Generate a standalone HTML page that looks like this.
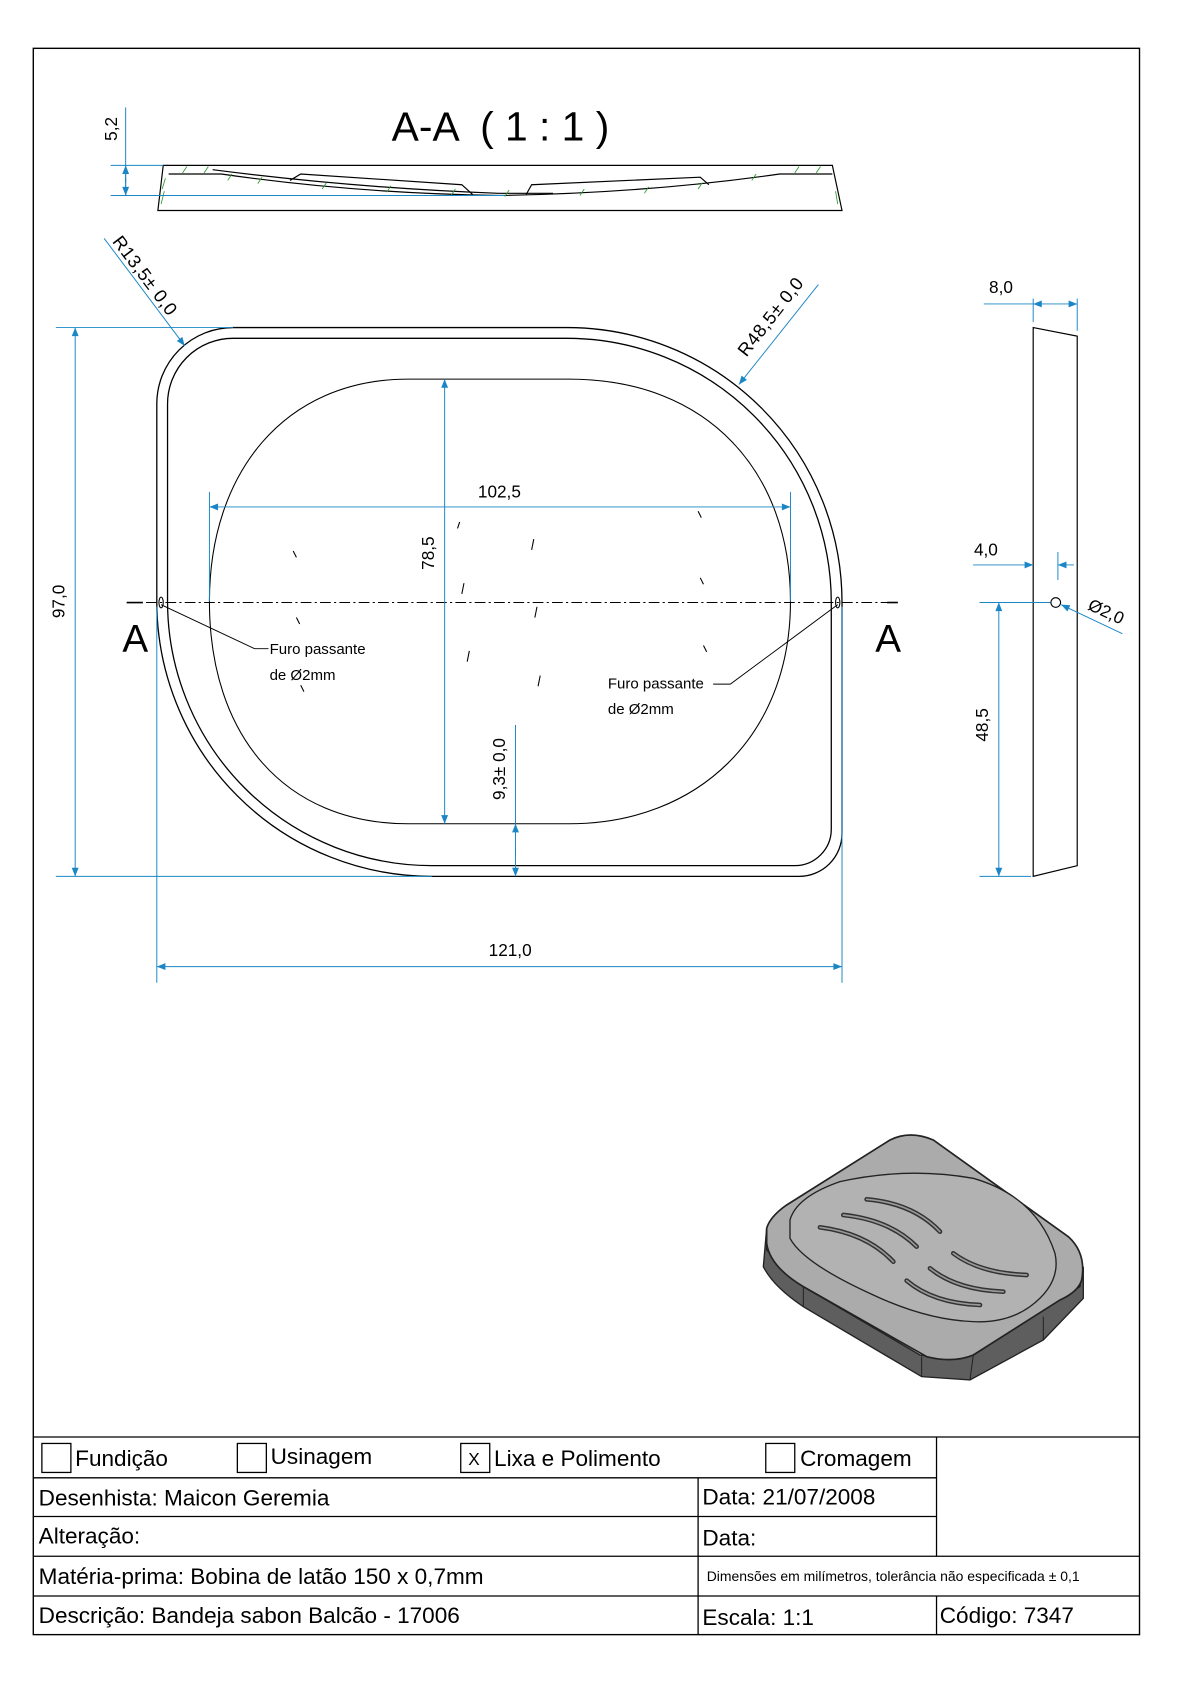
<!DOCTYPE html>
<html><head><meta charset="utf-8"><style>
html,body{margin:0;padding:0;background:#fff;}
svg{display:block;}
text{font-family:"Liberation Sans",sans-serif;fill:#000;}
</style></head><body>
<svg width="1190" height="1684" viewBox="0 0 1190 1684" xmlns="http://www.w3.org/2000/svg">
<defs>
<marker id="ar" viewBox="0 0 10 10" refX="10" refY="5" markerWidth="10" markerHeight="8" markerUnits="userSpaceOnUse" orient="auto-start-reverse"><path d="M0,1 L10,5 L0,9 Z" fill="#1a86c6"/></marker>
</defs>
<g transform="scale(1.074)">
<rect x="31" y="45" width="1030" height="1477" fill="none" stroke="#000" stroke-width="1.3"/>

<!-- Section A-A -->
<text x="466" y="131" font-size="38" text-anchor="middle" xml:space="preserve">A-A  ( 1 : 1 )</text>
<g fill="none" stroke="#000" stroke-width="1.1">
<path d="M152,154 L775,154 L784,196 L147,196 Z"/>
<path d="M157,162 L206,162 Q330,180 464,182 Q600,180 726,162 L775,162"/>
<path d="M198,158 Q330,175 464,180 L515,180"/>
<path d="M270,168 L280,162 L430,172 L440,181"/>
<path d="M490,181 L495,172 L652,165 L660,172"/>
</g>
<g stroke="#2a9a2a" stroke-width="0.8">
<path d="M170,161 L174,155 M190,161 L194,155 M212,168 L216,162 M240,171 L244,165 M300,176 L304,170 M360,179 L364,173 M420,182 L424,176 M470,183 L474,177 M540,182 L544,176 M600,180 L604,174 M650,176 L654,170 M700,168 L704,162 M740,161 L744,155 M760,161 L764,155 M150,190 L153,178 M151,176 L154,166 M780,190 L778,178"/>
</g>
<g stroke="#1a86c6" stroke-width="0.9" fill="none">
<line x1="103" y1="154" x2="152" y2="154"/>
<line x1="103" y1="182" x2="470" y2="182"/>
<line x1="117" y1="100" x2="117" y2="182"/>
<line x1="117" y1="170" x2="117" y2="154" marker-end="url(#ar)"/>
<line x1="117" y1="166" x2="117" y2="182" marker-end="url(#ar)"/>
</g>
<text transform="translate(109,120) rotate(-90)" font-size="16" text-anchor="middle">5,2</text>

<!-- Main plate -->
<g fill="none" stroke="#000" stroke-width="1.2">
<path d="M217,305 L528,305 A256,256 0 0 1 784,561 L784,776 A40,40 0 0 1 744,816 L402,816 A256,256 0 0 1 146,560 L146,376 A71,71 0 0 1 217,305 Z"/>
<path d="M217,315 L528,315 A246,246 0 0 1 774,561 L774,772 A34,34 0 0 1 740,806 L402,806 A246,246 0 0 1 156,560 L156,376 A61,61 0 0 1 217,315 Z"/>
<path d="M380,353 L530,353 C660,353 736,440 736,560 C736,685 650,767 530,767 L380,767 C265,767 195,685 195,560 C195,440 265,353 380,353 Z" stroke-width="1"/>
</g>
<g stroke="#000" stroke-width="1">
<path d="M273,513 l3,6 M276,575 l3,6 M280,638 l3,6 M428,486 l-2,6 M497,502 l-2,10 M432,543 l-2,10 M500,565 l-2,10 M437,606 l-2,10 M503,629 l-2,10 M650,476 l3,6 M652,538 l3,6 M655,601 l3,6"/>
</g>
<line x1="118" y1="561" x2="836" y2="561" stroke="#000" stroke-width="0.9" stroke-dasharray="10,3,2,3"/>
<ellipse cx="150" cy="561" rx="2" ry="5" fill="none" stroke="#000"/>
<ellipse cx="780" cy="561" rx="2" ry="5" fill="none" stroke="#000"/>
<line x1="118" y1="561" x2="133" y2="561" stroke="#000" stroke-width="1.5"/>
<line x1="826" y1="561" x2="836" y2="561" stroke="#000" stroke-width="1.5"/>
<text x="126" y="607" font-size="36" text-anchor="middle">A</text>
<text x="827" y="607" font-size="36" text-anchor="middle">A</text>
<polyline points="150,563 237,604 250,604" fill="none" stroke="#000" stroke-width="0.9"/>
<text x="251" y="609" font-size="14">Furo passante</text>
<text x="251" y="633" font-size="14">de Ø2mm</text>
<polyline points="780,563 680,637 664,637" fill="none" stroke="#000" stroke-width="0.9"/>
<text x="566" y="641" font-size="14">Furo passante</text>
<text x="566" y="665" font-size="14">de Ø2mm</text>

<!-- dims main -->
<g stroke="#1a86c6" stroke-width="0.9" fill="none">
<line x1="52" y1="305" x2="217" y2="305"/>
<line x1="52" y1="816" x2="402" y2="816"/>
<line x1="70" y1="305" x2="70" y2="816" marker-start="url(#ar)" marker-end="url(#ar)"/>
<line x1="146" y1="565" x2="146" y2="915"/>
<line x1="784" y1="565" x2="784" y2="915"/>
<line x1="146" y1="900" x2="784" y2="900" marker-start="url(#ar)" marker-end="url(#ar)"/>
<line x1="195" y1="458" x2="195" y2="560"/>
<line x1="736" y1="458" x2="736" y2="560"/>
<line x1="195" y1="472" x2="736" y2="472" marker-start="url(#ar)" marker-end="url(#ar)"/>
<line x1="414" y1="353" x2="414" y2="767" marker-start="url(#ar)" marker-end="url(#ar)"/>
<line x1="480" y1="675" x2="480" y2="767"/>
<line x1="480" y1="795" x2="480" y2="767" marker-end="url(#ar)"/>
<line x1="480" y1="790" x2="480" y2="816" marker-end="url(#ar)"/>
<line x1="97" y1="222" x2="172" y2="322" marker-end="url(#ar)"/>
<line x1="762" y1="265" x2="688" y2="358" marker-end="url(#ar)"/>
</g>
<text transform="translate(60,560) rotate(-90)" font-size="16" text-anchor="middle">97,0</text>
<text x="475" y="890" font-size="16" text-anchor="middle">121,0</text>
<text x="465" y="463" font-size="16" text-anchor="middle">102,5</text>
<text transform="translate(404,515) rotate(-90)" font-size="16" text-anchor="middle">78,5</text>
<text transform="translate(470,716) rotate(-90)" font-size="16" text-anchor="middle">9,3± 0,0</text>
<text transform="translate(104,225) rotate(53)" font-size="17" letter-spacing="0.5">R13,5± 0,0</text>
<text transform="translate(695,333) rotate(-52)" font-size="17" letter-spacing="0.5">R48,5± 0,0</text>

<!-- Side view -->
<path d="M962,305 L1003,313 L1003,806 L962,816 Z" fill="none" stroke="#000" stroke-width="1.1"/>
<circle cx="983" cy="561" r="4.5" fill="none" stroke="#000"/>
<g stroke="#1a86c6" stroke-width="0.9" fill="none">
<line x1="962" y1="278" x2="962" y2="300"/>
<line x1="1003" y1="278" x2="1003" y2="308"/>
<line x1="916" y1="283" x2="962" y2="283"/>
<line x1="962" y1="283" x2="1003" y2="283" marker-start="url(#ar)" marker-end="url(#ar)"/>
<line x1="985" y1="514" x2="985" y2="540"/>
<line x1="906" y1="526" x2="962" y2="526" marker-end="url(#ar)"/>
<line x1="1000" y1="526" x2="985" y2="526" marker-end="url(#ar)"/>
<line x1="912" y1="561" x2="978" y2="561"/>
<line x1="912" y1="816" x2="960" y2="816"/>
<line x1="930" y1="561" x2="930" y2="816" marker-start="url(#ar)" marker-end="url(#ar)"/>
<line x1="1045" y1="590" x2="988" y2="563" marker-end="url(#ar)"/>
</g>
<text x="932" y="273" font-size="16" text-anchor="middle">8,0</text>
<text x="918" y="517" font-size="16" text-anchor="middle">4,0</text>
<text transform="translate(1012,567) rotate(25)" font-size="16">Ø2,0</text>
<text transform="translate(920,675) rotate(-90)" font-size="16" text-anchor="middle">48,5</text>

<!-- Title block -->
<g stroke="#000" stroke-width="1.2" fill="none">
<line x1="31" y1="1338" x2="1061" y2="1338"/>
<line x1="31" y1="1376" x2="872" y2="1376"/>
<line x1="31" y1="1412" x2="872" y2="1412"/>
<line x1="31" y1="1449" x2="1061" y2="1449"/>
<line x1="31" y1="1486" x2="1061" y2="1486"/>
<line x1="650" y1="1376" x2="650" y2="1522"/>
<line x1="872" y1="1338" x2="872" y2="1449"/>
<line x1="872" y1="1486" x2="872" y2="1522"/>
<rect x="39" y="1344" width="27" height="27"/>
<rect x="221" y="1344" width="27" height="27"/>
<rect x="429" y="1344" width="27" height="27"/>
<rect x="713" y="1344" width="27" height="27"/>
</g>
<g font-size="21">
<text x="70" y="1365">Fundição</text>
<text x="252" y="1363">Usinagem</text>
<text x="436" y="1364" font-size="16">X</text>
<text x="460" y="1365">Lixa e Polimento</text>
<text x="745" y="1365">Cromagem</text>
<text x="36" y="1402">Desenhista: Maicon Geremia</text>
<text x="654" y="1401">Data: 21/07/2008</text>
<text x="36" y="1437">Alteração:</text>
<text x="654" y="1439">Data:</text>
<text x="36" y="1475">Matéria-prima: Bobina de latão 150 x 0,7mm</text>
<text x="36" y="1511">Descrição: Bandeja sabon Balcão - 17006</text>
<text x="654" y="1513">Escala: 1:1</text>
<text x="875" y="1511">Código: 7347</text>
</g>
<text x="658" y="1472" font-size="13">Dimensões em milímetros, tolerância não especificada ± 0,1</text>
</g>

<!-- Iso view (real coords) -->
<g transform="translate(740,1110) scale(0.3333)">
<path d="M80,355 L70,470 Q100,530 190,590 L545,800 L690,810 L910,690 L1030,565 L1030,470 L1020,530 L700,735 L600,745 L540,735 L190,530 L80,420 Z" fill="#5e5e5e" stroke="#222" stroke-width="4"/>
<path d="M80,355 Q90,320 140,285 L450,90 Q510,60 580,90 L985,380 Q1040,430 1025,510 Q1015,545 960,570 L700,735 Q640,760 560,740 L190,530 Q90,470 80,400 Z" fill="#ababab" stroke="#222" stroke-width="5"/>
<path d="M150,330 Q170,260 300,215 Q500,170 700,205 Q890,260 945,430 Q965,520 870,590 Q800,640 700,635 Q560,630 400,555 Q190,460 150,385 Z" fill="#b2b2b2" stroke="#222" stroke-width="4"/>
<g fill="none" stroke="#333" stroke-width="14" stroke-linecap="round">
<path d="M380,268 Q520,280 600,365"/>
<path d="M310,315 Q450,330 530,410"/>
<path d="M240,352 Q380,370 460,455"/>
<path d="M640,430 Q720,490 860,495"/>
<path d="M570,475 Q650,540 790,545"/>
<path d="M500,512 Q580,580 720,585"/>
</g>
<g fill="none" stroke="#999" stroke-width="5" stroke-linecap="round">
<path d="M380,268 Q520,280 600,365"/>
<path d="M310,315 Q450,330 530,410"/>
<path d="M240,352 Q380,370 460,455"/>
<path d="M640,430 Q720,490 860,495"/>
<path d="M570,475 Q650,540 790,545"/>
<path d="M500,512 Q580,580 720,585"/>
</g>
<path d="M190,530 L190,590 M545,740 L545,800 M700,735 L690,810 M910,620 L910,690" stroke="#222" stroke-width="3"/>
</g>
</svg>
</body></html>
